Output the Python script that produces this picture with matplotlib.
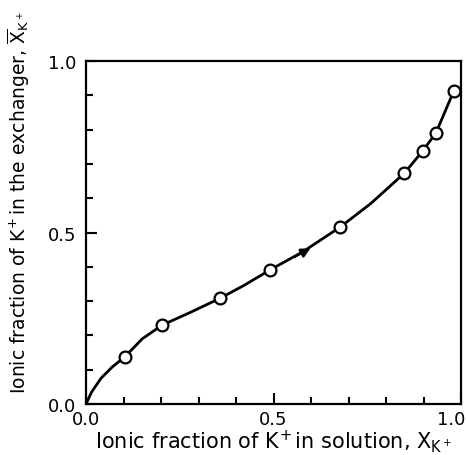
import numpy as np
import matplotlib
matplotlib.use("Agg")
import matplotlib.pyplot as plt
import matplotlib.transforms as mtransforms

# --- data ---
# measured points (open circles)
x_pts = [0.104, 0.203, 0.357, 0.491, 0.678, 0.849, 0.898, 0.933, 0.981]
y_pts = [0.138, 0.230, 0.308, 0.391, 0.516, 0.673, 0.738, 0.790, 0.913]

# hand-drawn curve
x_curve = [0.0, 0.015, 0.04, 0.07, 0.104, 0.15, 0.203, 0.28, 0.357, 0.42,
           0.491, 0.58, 0.678, 0.76, 0.849, 0.898, 0.933, 0.981]
y_curve = [0.0, 0.035, 0.075, 0.108, 0.138, 0.19, 0.230, 0.268, 0.308, 0.345,
           0.391, 0.445, 0.516, 0.585, 0.673, 0.738, 0.790, 0.913]

# direction arrow on the curve
arrow_tail = (0.55, 0.425)
arrow_head = (0.605, 0.458)

tick_vals = [0.0, 0.5, 1.0]
tick_labels = ["0.0", "0.5", "1.0"]

plt.rcParams['font.family'] = ['DejaVu Sans']
plt.rcParams['mathtext.fontset'] = 'dejavusans'

fig = plt.figure(figsize=(4.66, 4.56), dpi=100)
ax = fig.add_axes([86 / 466, 1 - 405 / 456, 375 / 466, 343 / 456])

ax.plot(x_curve, y_curve, color='black', lw=2.0, zorder=2)
ax.plot(x_pts, y_pts, 'o', ms=8.5, mfc='white', mec='black', mew=1.6, zorder=3)
ax.annotate('', xy=arrow_head, xytext=arrow_tail,
            arrowprops=dict(arrowstyle='-|>', color='black', lw=1.6,
                            mutation_scale=14))

ax.set_xlim(0, 1.0)
ax.set_ylim(0, 1.0)

ax.set_xticks(tick_vals)
ax.set_xticklabels(tick_labels)
ax.set_yticks(tick_vals)
ax.set_yticklabels(tick_labels)
ax.set_xticks(np.arange(0.1, 1.0, 0.1), minor=True)
ax.set_yticks(np.arange(0.1, 1.0, 0.1), minor=True)
ax.tick_params(which='major', direction='in', length=8, width=1.5,
               labelsize=13, pad=4)
ax.tick_params(axis='y', which='major', pad=7)
ax.tick_params(which='minor', direction='in', length=5, width=1.5)

# last x label sits a bit left so it stays inside the image
lab = ax.get_xticklabels()[-1]
lab.set_transform(lab.get_transform() +
                  mtransforms.ScaledTranslation(-10 / 100, 0, fig.dpi_scale_trans))

for s in ax.spines.values():
    s.set_linewidth(1.6)

ax.set_xlabel(r"Ionic fraction of K$^{\!+}$in solution, X$_{\mathrm{K}^+}$",
              fontsize=15)
ax.xaxis.set_label_coords(0.5, -0.066)
ax.set_ylabel(r"Ionic fraction of K$^{\!+}$in the exchanger, $\overline{\mathrm{X}}_{\mathrm{K}^+}$",
              fontsize=13.5)
ax.yaxis.set_label_coords(-0.145, 0.59)

fig.savefig("out.png", dpi=100)
